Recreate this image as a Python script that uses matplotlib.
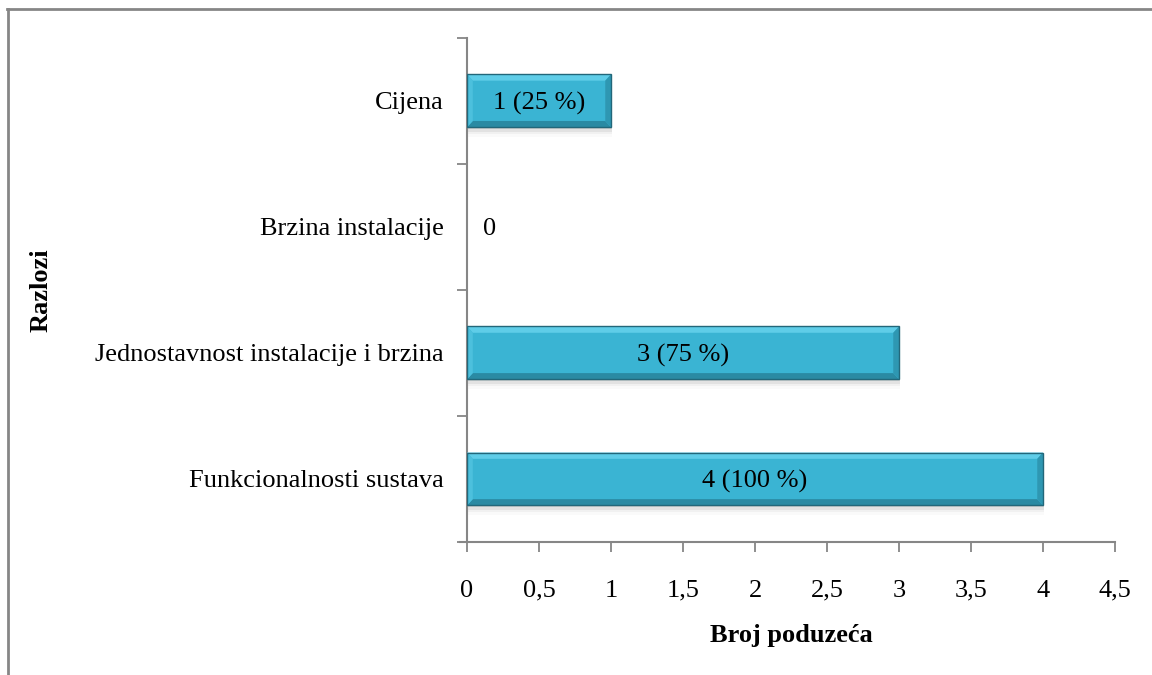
import numpy as np
import matplotlib.pyplot as plt
from matplotlib.patches import Rectangle, Polygon

# Data
razlozi = ['Funkcionalnosti sustava', 'Jednostavnost instalacije i brzina',
           'Brzina instalacije', 'Cijena']
broj = [4, 3, 0, 1]
postotak = [100, 75, 0, 25]
x_ticks = [0, 0.5, 1, 1.5, 2, 2.5, 3, 3.5, 4, 4.5]
x_tick_labels = ['0', '0,5', '1', '1,5', '2', '2,5', '3', '3,5', '4', '4,5']

plt.rcParams['font.family'] = ['Liberation Serif', 'DejaVu Serif']
fs = 19

fig = plt.figure(figsize=(11.52, 6.75), dpi=100)
ax = fig.add_axes([0.4054, 0.197, 0.5625, 0.747])

grey = '#868686'
bar_h = 0.42
y_pos = np.arange(len(razlozi))

# shadow under bars
for y, v in zip(y_pos, broj):
    if v == 0:
        continue
    for k, a in enumerate([0.09, 0.06, 0.035, 0.02]):
        off = 0.015 + 0.02 * k
        ax.add_patch(Rectangle((0.01, y - bar_h / 2 - off), v, bar_h,
                               facecolor='black', alpha=a, edgecolor='none', zorder=1))

# main bars
ax.barh(y_pos, broj, height=bar_h, color='#3AB4D3', edgecolor='none', zorder=3)

# bevel effect
bev_y = 0.05
bev_x = 0.04
for y, v in zip(y_pos, broj):
    if v == 0:
        continue
    top = y + bar_h / 2
    bot = y - bar_h / 2
    ax.add_patch(Polygon([(0, top), (v, top), (v - bev_x, top - bev_y), (bev_x, top - bev_y)],
                         closed=True, facecolor='#5FCDE8', edgecolor='none', zorder=4))
    ax.add_patch(Polygon([(0, bot), (v, bot), (v - bev_x, bot + bev_y), (bev_x, bot + bev_y)],
                         closed=True, facecolor='#2A8AA3', edgecolor='none', zorder=4))
    ax.add_patch(Polygon([(0, top), (bev_x, top - bev_y), (bev_x, bot + bev_y), (0, bot)],
                         closed=True, facecolor='#4CC0DD', edgecolor='none', zorder=4))
    ax.add_patch(Polygon([(v, top), (v - bev_x, top - bev_y), (v - bev_x, bot + bev_y), (v, bot)],
                         closed=True, facecolor='#2E97B2', edgecolor='none', zorder=4))
    ax.add_patch(Rectangle((0, bot), v, bar_h, facecolor='none',
                           edgecolor='#22677A', linewidth=1.0, zorder=5))

# value labels
for y, v, p in zip(y_pos, broj, postotak):
    if v == 0:
        ax.text(0.11, y, '0', ha='left', va='center_baseline', fontsize=fs, zorder=6)
    else:
        ax.text(v / 2, y, f'{v} ({p} %)', ha='center', va='center_baseline',
                fontsize=fs, zorder=6)

ax.set_xlim(0, 4.5)
ax.set_ylim(-0.5, 3.5)
ax.set_xticks(x_ticks)
ax.set_xticklabels(x_tick_labels, fontsize=fs)
ax.set_yticks(y_pos)
ax.set_yticklabels(razlozi, fontsize=fs, va='center_baseline')
ax.tick_params(axis='y', which='major', length=0, pad=17)
ax.set_yticks([-0.5, 0.5, 1.5, 2.5, 3.5], minor=True)
ax.tick_params(axis='y', which='minor', length=7, width=1.3, color=grey, direction='out')
ax.tick_params(axis='x', which='major', length=7, width=1.3, color=grey, direction='out', pad=20)

for s in ['top', 'right']:
    ax.spines[s].set_visible(False)
for s in ['left', 'bottom']:
    ax.spines[s].set_color(grey)
    ax.spines[s].set_linewidth(1.5)
ax.spines['bottom'].set_bounds(-0.05, 4.5)

ax.set_xlabel('Broj poduzeća', fontsize=fs, fontweight='bold', labelpad=16)
fig.text(0.036, 0.57, 'Razlozi', rotation=90, fontsize=fs, fontweight='bold',
         ha='center', va='center')

# outer frame (top and left)
fig.add_artist(plt.Line2D([7 / 1152, 1], [1 - 8.5 / 675, 1 - 8.5 / 675],
                          color=grey, linewidth=2, transform=fig.transFigure))
fig.add_artist(plt.Line2D([7.5 / 1152, 7.5 / 1152], [0, 1 - 8.5 / 675],
                          color=grey, linewidth=2, transform=fig.transFigure))

fig.savefig('out.png', dpi=100)
